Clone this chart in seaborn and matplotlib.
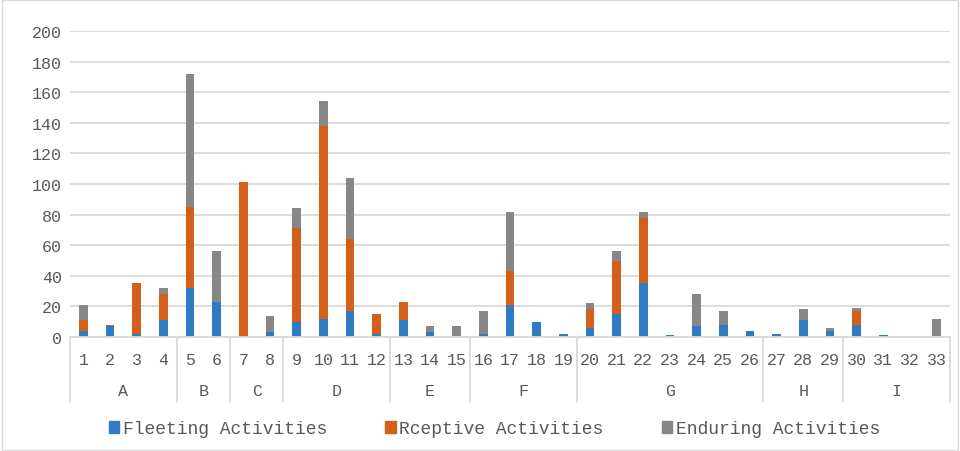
import matplotlib
matplotlib.use('Agg')
import matplotlib.pyplot as plt
import matplotlib.transforms as mtransforms
from matplotlib.patches import Patch, Rectangle
import seaborn as sns
import pandas as pd
import numpy as np

# data
items = [str(i) for i in range(1, 34)]
groups = ['A', 'B', 'C', 'D', 'E', 'F', 'G', 'H', 'I']
group_sizes = [4, 2, 2, 4, 3, 4, 7, 3, 4]
fleeting = [4, 7, 2, 11, 32, 23, 0, 3, 10, 12, 17, 2, 11, 3, 0, 2, 21, 10, 2,
            6, 15, 35, 1, 7, 8, 4, 2, 11, 4, 8, 1, 0, 0]
receptive = [7, 1, 33, 17, 53, 0, 101, 0, 61, 126, 47, 13, 12, 0, 0, 0, 22, 0, 0,
             12, 35, 43, 0, 0, 0, 0, 0, 0, 0, 9, 0, 0, 0]
enduring = [10, 0, 0, 4, 87, 33, 0, 11, 13, 16, 40, 0, 0, 4, 7, 15, 39, 0, 0,
            4, 6, 4, 0, 21, 9, 0, 0, 7, 2, 2, 0, 0, 12]

c_blue = '#2F7BC3'
c_orange = '#D2601A'
c_gray = '#878787'

sns.set_theme(style='white')
plt.rcParams['font.family'] = ['Liberation Mono', 'DejaVu Sans']

df = pd.DataFrame({'item': items, 'fleeting': fleeting,
                   'receptive': receptive, 'enduring': enduring})
df['s2'] = df['fleeting'] + df['receptive']
df['s3'] = df['s2'] + df['enduring']

fig = plt.figure(figsize=(9.6, 4.52), dpi=100)
ax = fig.add_axes([70 / 960, 1 - 338 / 452, 880 / 960, 306 / 452])

kw = dict(x='item', order=items, width=0.32, linewidth=0, ax=ax)
sns.barplot(data=df, y='s3', color=c_gray, saturation=1, **kw)
sns.barplot(data=df, y='s2', color=c_orange, saturation=1, **kw)
sns.barplot(data=df, y='fleeting', color=c_blue, saturation=1, **kw)

ax.set_ylim(0, 200)
ax.set_xlim(-0.5, len(items) - 0.5)
ax.set_yticks(range(0, 201, 20))
ax.yaxis.grid(True, color='#D9D9D9', linewidth=1.3)
ax.set_axisbelow(True)
for s in ['top', 'right', 'left']:
    ax.spines[s].set_visible(False)
ax.spines['bottom'].set_color('#D9D9D9')
ax.spines['bottom'].set_linewidth(1.3)
ax.set_xlabel('')
ax.set_ylabel('')
ax.tick_params(axis='y', labelsize=12, colors='#595959', length=0, pad=6)
ax.set_xticks([])

# two-level category axis
trans = mtransforms.blended_transform_factory(ax.transData, ax.transAxes)
for i, lab in enumerate(items):
    ax.text(i, -0.072, lab, transform=trans, ha='center', va='center',
            fontsize=12, color='#595959')
start = 0
bounds = [-0.5]
for g, n in zip(groups, group_sizes):
    mid = start + (n - 1) / 2
    ax.text(mid, -0.176, g, transform=trans, ha='center', va='center',
            fontsize=12, color='#595959')
    start += n
    bounds.append(start - 0.5)
for b in bounds:
    ax.plot([b, b], [0, -0.212], transform=trans, color='#D9D9D9',
            linewidth=1.3, clip_on=False)

handles = [Patch(color=c_blue), Patch(color=c_orange), Patch(color=c_gray)]
fig.legend(handles, ['Fleeting Activities', 'Rceptive Activities', 'Enduring Activities'],
           loc='center', bbox_to_anchor=(0.515, 0.049), ncol=3, frameon=False,
           fontsize=13, handlelength=0.6, handleheight=0.6, handletextpad=0.2,
           columnspacing=3.2, labelcolor='#595959')

fig.patches.append(Rectangle((0.002, 0.002), 0.996, 0.996, transform=fig.transFigure,
                             fill=False, edgecolor='#D9D9D9', linewidth=1))

fig.savefig('out.png', dpi=100)
